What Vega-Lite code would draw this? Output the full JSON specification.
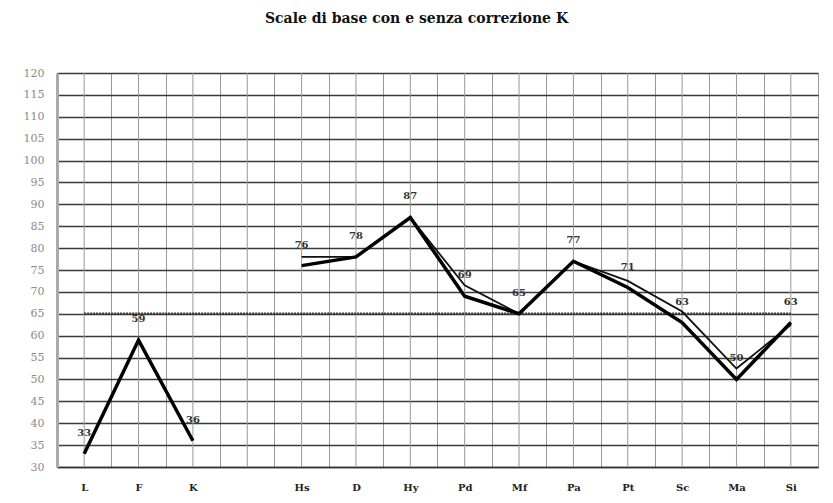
{
  "$schema": "https://vega.github.io/schema/vega-lite/v6.json",
  "width": 761,
  "height": 394,
  "autosize": {"type": "none"},
  "padding": {"left": 57, "top": 73, "right": 15, "bottom": 36},
  "background": "white",
  "title": {
    "text": "Scale di base con e senza correzione K",
    "font": "DejaVu Serif",
    "fontSize": 14,
    "fontWeight": "bold",
    "color": "#111",
    "anchor": "middle",
    "dx": -21,
    "offset": 41
  },
  "config": {
    "axisY": {
      "title": null,
      "grid": true,
      "gridColor": "#3a3a3a",
      "gridWidth": 1.6,
      "ticks": false,
      "domain": true,
      "domainColor": "#aaa",
      "domainWidth": 3,
      "labelFont": "DejaVu Serif",
      "labelFontSize": 11,
      "labelColor": "#8a8a8a",
      "labelPadding": 13,
      "labelOverlap": false
    }
  },
  "datasets": {
    "cats": [
      {"scale": "L"}, {"scale": "F"}, {"scale": "K"}, {"scale": " "},
      {"scale": "Hs"}, {"scale": "D"}, {"scale": "Hy"}, {"scale": "Pd"},
      {"scale": "Mf"}, {"scale": "Pa"}, {"scale": "Pt"}, {"scale": "Sc"},
      {"scale": "Ma"}, {"scale": "Si"}
    ],
    "cutoff": [
      {"scale": "L", "value": 65},
      {"scale": "Si", "value": 65}
    ],
    "corrected": [
      {"scale": "Hs", "value": 78},
      {"scale": "D", "value": 78},
      {"scale": "Hy", "value": 87},
      {"scale": "Pd", "value": 71.5},
      {"scale": "Mf", "value": 65},
      {"scale": "Pa", "value": 77},
      {"scale": "Pt", "value": 72.5},
      {"scale": "Sc", "value": 65.5},
      {"scale": "Ma", "value": 52.5},
      {"scale": "Si", "value": 62.5}
    ],
    "base": [
      {"scale": "L", "value": 33, "group": "validity"},
      {"scale": "F", "value": 59, "group": "validity"},
      {"scale": "K", "value": 36, "group": "validity"},
      {"scale": "Hs", "value": 76, "group": "clinical"},
      {"scale": "D", "value": 78, "group": "clinical"},
      {"scale": "Hy", "value": 87, "group": "clinical"},
      {"scale": "Pd", "value": 69, "group": "clinical"},
      {"scale": "Mf", "value": 65, "group": "clinical"},
      {"scale": "Pa", "value": 77, "group": "clinical"},
      {"scale": "Pt", "value": 71, "group": "clinical"},
      {"scale": "Sc", "value": 63, "group": "clinical"},
      {"scale": "Ma", "value": 50, "group": "clinical"},
      {"scale": "Si", "value": 63, "group": "clinical"}
    ]
  },
  "encoding": {
    "x": {
      "field": "scale",
      "type": "nominal",
      "sort": null,
      "scale": {
        "domain": ["L", "F", "K", " ", "Hs", "D", "Hy", "Pd", "Mf", "Pa", "Pt", "Sc", "Ma", "Si"],
        "paddingInner": 0,
        "paddingOuter": 0
      },
      "axis": {
        "title": null,
        "labelAngle": 0,
        "grid": true,
        "tickBand": "extent",
        "gridColor": "#999",
        "gridWidth": 1,
        "ticks": false,
        "domain": true,
        "domainColor": "#333",
        "domainWidth": 1.6,
        "labelFont": "DejaVu Serif",
        "labelFontWeight": "bold",
        "labelFontSize": 10,
        "labelColor": "#222",
        "labelPadding": 15
      }
    }
  },
  "layer": [
    {
      "data": {"name": "cats"},
      "mark": {"type": "rule", "color": "#999", "strokeWidth": 1},
      "encoding": {}
    },
    {
      "data": {"name": "cutoff"},
      "mark": {"type": "line", "color": "#333", "strokeWidth": 2.5, "strokeDash": [2, 1]},
      "encoding": {
        "y": {
          "field": "value",
          "type": "quantitative",
          "scale": {"domain": [30, 120], "nice": false, "zero": false},
          "axis": {"values": [30, 35, 40, 45, 50, 55, 60, 65, 70, 75, 80, 85, 90, 95, 100, 105, 110, 115, 120]}
        }
      }
    },
    {
      "data": {"name": "corrected"},
      "mark": {"type": "line", "color": "#111", "strokeWidth": 1.8},
      "encoding": {
        "y": {
          "field": "value",
          "type": "quantitative",
          "axis": {"values": [30, 35, 40, 45, 50, 55, 60, 65, 70, 75, 80, 85, 90, 95, 100, 105, 110, 115, 120]}
        }
      }
    },
    {
      "data": {"name": "base"},
      "mark": {"type": "line", "color": "#000", "strokeWidth": 3.5},
      "encoding": {
        "y": {
          "field": "value",
          "type": "quantitative",
          "axis": {"values": [30, 35, 40, 45, 50, 55, 60, 65, 70, 75, 80, 85, 90, 95, 100, 105, 110, 115, 120]}
        },
        "detail": {"field": "group"}
      }
    },
    {
      "data": {"name": "base"},
      "mark": {"type": "text", "dy": -21, "font": "DejaVu Serif", "fontSize": 10, "fontWeight": "bold", "color": "#333"},
      "encoding": {
        "y": {
          "field": "value",
          "type": "quantitative",
          "axis": {"values": [30, 35, 40, 45, 50, 55, 60, 65, 70, 75, 80, 85, 90, 95, 100, 105, 110, 115, 120]}
        },
        "text": {"field": "value", "type": "quantitative"}
      }
    }
  ]
}
